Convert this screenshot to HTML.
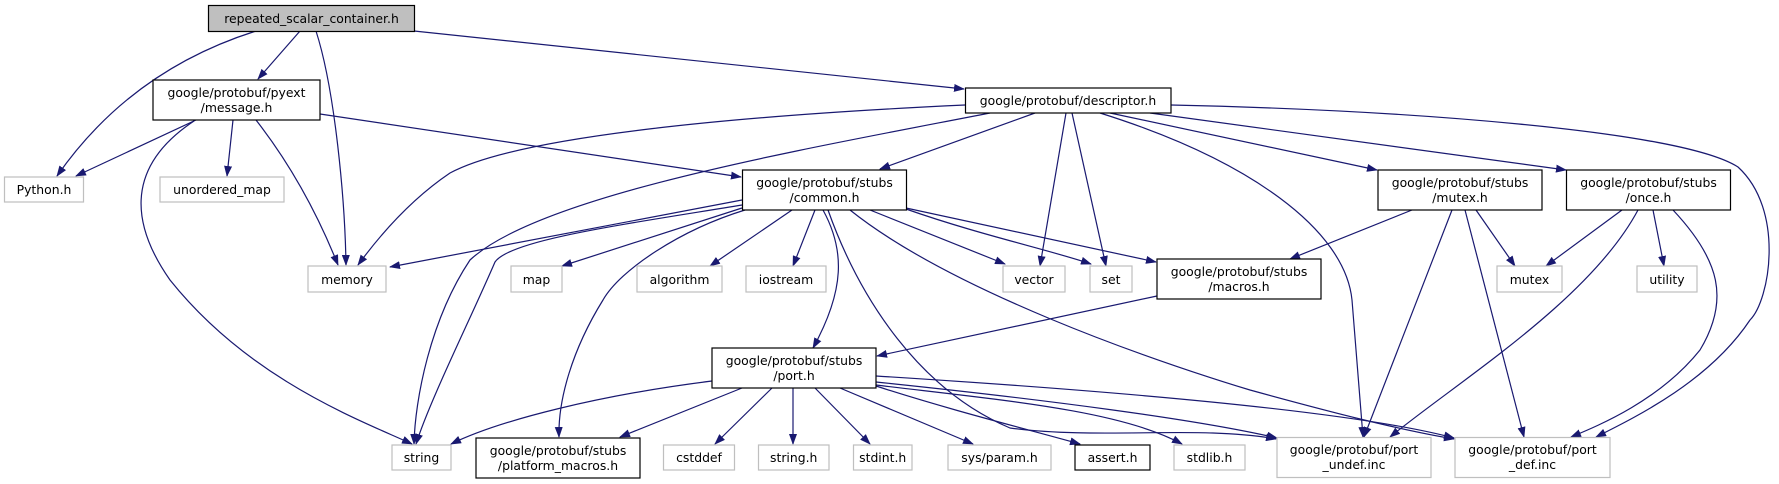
<!DOCTYPE html>
<html><head><meta charset="utf-8"><style>
html,body{margin:0;padding:0;background:#fff;}
svg{display:block;}
text{font-family:"DejaVu Sans","Liberation Sans",sans-serif;font-size:12.4px;fill:#000;text-anchor:middle;}
.e{fill:none;stroke:#191970;stroke-width:1.2;marker-end:url(#a);}
.n{fill:#fff;stroke:#000;stroke-width:1.2;}
.g{fill:#fff;stroke:#bfbfbf;stroke-width:1.2;}
</style></head><body>
<svg width="1779" height="484" viewBox="0 0 1779 484" xmlns="http://www.w3.org/2000/svg">
<defs><marker id="a" markerWidth="11" markerHeight="8" refX="10" refY="4" orient="auto" markerUnits="userSpaceOnUse"><path d="M0,0 L11,4 L0,8 z" fill="#191970"/></marker></defs>

<!-- edges -->
<path class="e" d="M256,31 C180,55 110,100 57,176"/>
<path class="e" d="M300,31 L258,79"/>
<path class="e" d="M316,31 C335,90 345,200 346,265"/>
<path class="e" d="M414,31 L964,89"/>
<path class="e" d="M196,120 L76,176"/>
<path class="e" d="M233,120 L227,176"/>
<path class="e" d="M256,120 C295,170 320,220 338,265"/>
<path class="e" d="M194,121 C120,170 135,230 170,280 C250,380 360,420 412,444"/>
<path class="e" d="M320,114 L741,177"/>
<path class="e" d="M965,105 C750,115 520,135 450,173 C410,200 380,235 358,265"/>
<path class="e" d="M990,113 C800,150 540,195 470,260 C430,320 415,400 414,444"/>
<path class="e" d="M1035,113 L880,169"/>
<path class="e" d="M1066,113 L1040,266"/>
<path class="e" d="M1072,113 L1106,266"/>
<path class="e" d="M1110,113 L1377,170"/>
<path class="e" d="M1150,113 L1566,170"/>
<path class="e" d="M1171,105 C1400,110 1680,130 1738,167 C1785,210 1770,300 1750,320 C1710,380 1640,415 1596,437"/>
<path class="e" d="M1100,113 C1250,160 1345,230 1352,300 C1358,380 1362,420 1363,437"/>
<path class="e" d="M742,200 L390,267"/>
<path class="e" d="M742,208 L562,266"/>
<path class="e" d="M792,210 L710,266"/>
<path class="e" d="M815,210 L793,266"/>
<path class="e" d="M870,210 L1005,264"/>
<path class="e" d="M906,209 C980,235 1050,250 1091,264"/>
<path class="e" d="M906,208 L1156,262"/>
<path class="e" d="M742,205 C620,225 510,240 495,262 C470,320 430,400 416,444"/>
<path class="e" d="M745,210 C680,230 620,270 603,300 C572,350 558,400 559,437"/>
<path class="e" d="M823,210 C845,250 845,290 813,348"/>
<path class="e" d="M828,210 C860,300 920,390 1010,428 C1100,440 1200,425 1276,439"/>
<path class="e" d="M850,210 C950,290 1150,360 1250,390 C1330,412 1400,430 1454,439"/>
<path class="e" d="M1412,210 L1290,259"/>
<path class="e" d="M1452,210 L1364,437"/>
<path class="e" d="M1465,210 L1524,437"/>
<path class="e" d="M1476,210 L1515,266"/>
<path class="e" d="M1622,210 L1546,266"/>
<path class="e" d="M1653,210 L1664,266"/>
<path class="e" d="M1638,210 C1590,300 1460,380 1390,437"/>
<path class="e" d="M1673,210 C1720,260 1730,300 1700,350 C1660,400 1600,425 1571,437"/>
<path class="e" d="M1157,296 L877,356"/>
<path class="e" d="M712,381 C600,395 500,420 451,444"/>
<path class="e" d="M742,388 L620,437"/>
<path class="e" d="M772,388 L715,444"/>
<path class="e" d="M793,388 L793,444"/>
<path class="e" d="M815,388 L870,444"/>
<path class="e" d="M840,388 L973,444"/>
<path class="e" d="M876,386 C950,410 1030,430 1080,444"/>
<path class="e" d="M876,385 C1000,400 1120,410 1182,444"/>
<path class="e" d="M876,382 C1050,400 1200,420 1277,438"/>
<path class="e" d="M876,376 C1100,390 1350,410 1454,438"/>

<!-- nodes -->
<rect x="208.5" y="5.5" width="206" height="26" fill="#bfbfbf" stroke="#000" stroke-width="1.2"/>
<text x="311.5" y="23">repeated_scalar_container.h</text>

<rect class="n" x="153" y="80" width="167" height="40"/>
<text x="236.5" y="97">google/protobuf/pyext</text><text x="236.5" y="112">/message.h</text>

<rect class="g" x="4.5" y="177" width="79" height="25"/><text x="44" y="194">Python.h</text>
<rect class="g" x="160" y="177" width="124" height="25"/><text x="222" y="194">unordered_map</text>

<rect class="n" x="965.5" y="88" width="205.5" height="25"/>
<text x="1068" y="105">google/protobuf/descriptor.h</text>

<rect class="n" x="742.5" y="170" width="164" height="40"/>
<text x="824.5" y="187">google/protobuf/stubs</text><text x="824.5" y="202">/common.h</text>

<rect class="n" x="1378" y="170" width="164" height="40"/>
<text x="1460" y="187">google/protobuf/stubs</text><text x="1460" y="202">/mutex.h</text>

<rect class="n" x="1566.5" y="170" width="164" height="40"/>
<text x="1648.5" y="187">google/protobuf/stubs</text><text x="1648.5" y="202">/once.h</text>

<rect class="g" x="308" y="266" width="78" height="26"/><text x="347" y="284">memory</text>
<rect class="g" x="511" y="266" width="51" height="26"/><text x="536.5" y="284">map</text>
<rect class="g" x="637" y="266" width="85" height="26"/><text x="679.5" y="284">algorithm</text>
<rect class="g" x="746" y="266" width="80" height="26"/><text x="786" y="284">iostream</text>
<rect class="g" x="1003" y="266" width="62" height="26"/><text x="1034" y="284">vector</text>
<rect class="g" x="1090" y="266" width="42" height="26"/><text x="1111" y="284">set</text>
<rect class="g" x="1497" y="266" width="65" height="26"/><text x="1529.5" y="284">mutex</text>
<rect class="g" x="1637" y="266" width="60" height="26"/><text x="1667" y="284">utility</text>

<rect class="n" x="1157" y="259" width="164" height="40"/>
<text x="1239" y="276">google/protobuf/stubs</text><text x="1239" y="291">/macros.h</text>

<rect class="n" x="712" y="348" width="164" height="40"/>
<text x="794" y="365">google/protobuf/stubs</text><text x="794" y="380">/port.h</text>

<rect class="g" x="392" y="445" width="59" height="25"/><text x="421.5" y="462">string</text>
<rect class="n" x="476" y="438" width="164" height="40"/>
<text x="558" y="455">google/protobuf/stubs</text><text x="558" y="470">/platform_macros.h</text>
<rect class="g" x="663.5" y="445" width="71" height="25"/><text x="699" y="462">cstddef</text>
<rect class="g" x="758.5" y="445" width="70.5" height="25"/><text x="793.7" y="462">string.h</text>
<rect class="g" x="853.5" y="445" width="58.5" height="25"/><text x="882.7" y="462">stdint.h</text>
<rect class="g" x="948" y="445" width="103" height="25"/><text x="999.5" y="462">sys/param.h</text>
<rect class="n" x="1075" y="445" width="75" height="25"/><text x="1112.5" y="462">assert.h</text>
<rect class="g" x="1174" y="445" width="71" height="25"/><text x="1209.5" y="462">stdlib.h</text>
<rect class="g" x="1277" y="437.5" width="154" height="40"/>
<text x="1354" y="454">google/protobuf/port</text><text x="1354" y="469">_undef.inc</text>
<rect class="g" x="1455" y="437.5" width="155" height="40"/>
<text x="1532.5" y="454">google/protobuf/port</text><text x="1532.5" y="469">_def.inc</text>
</svg>
</body></html>
